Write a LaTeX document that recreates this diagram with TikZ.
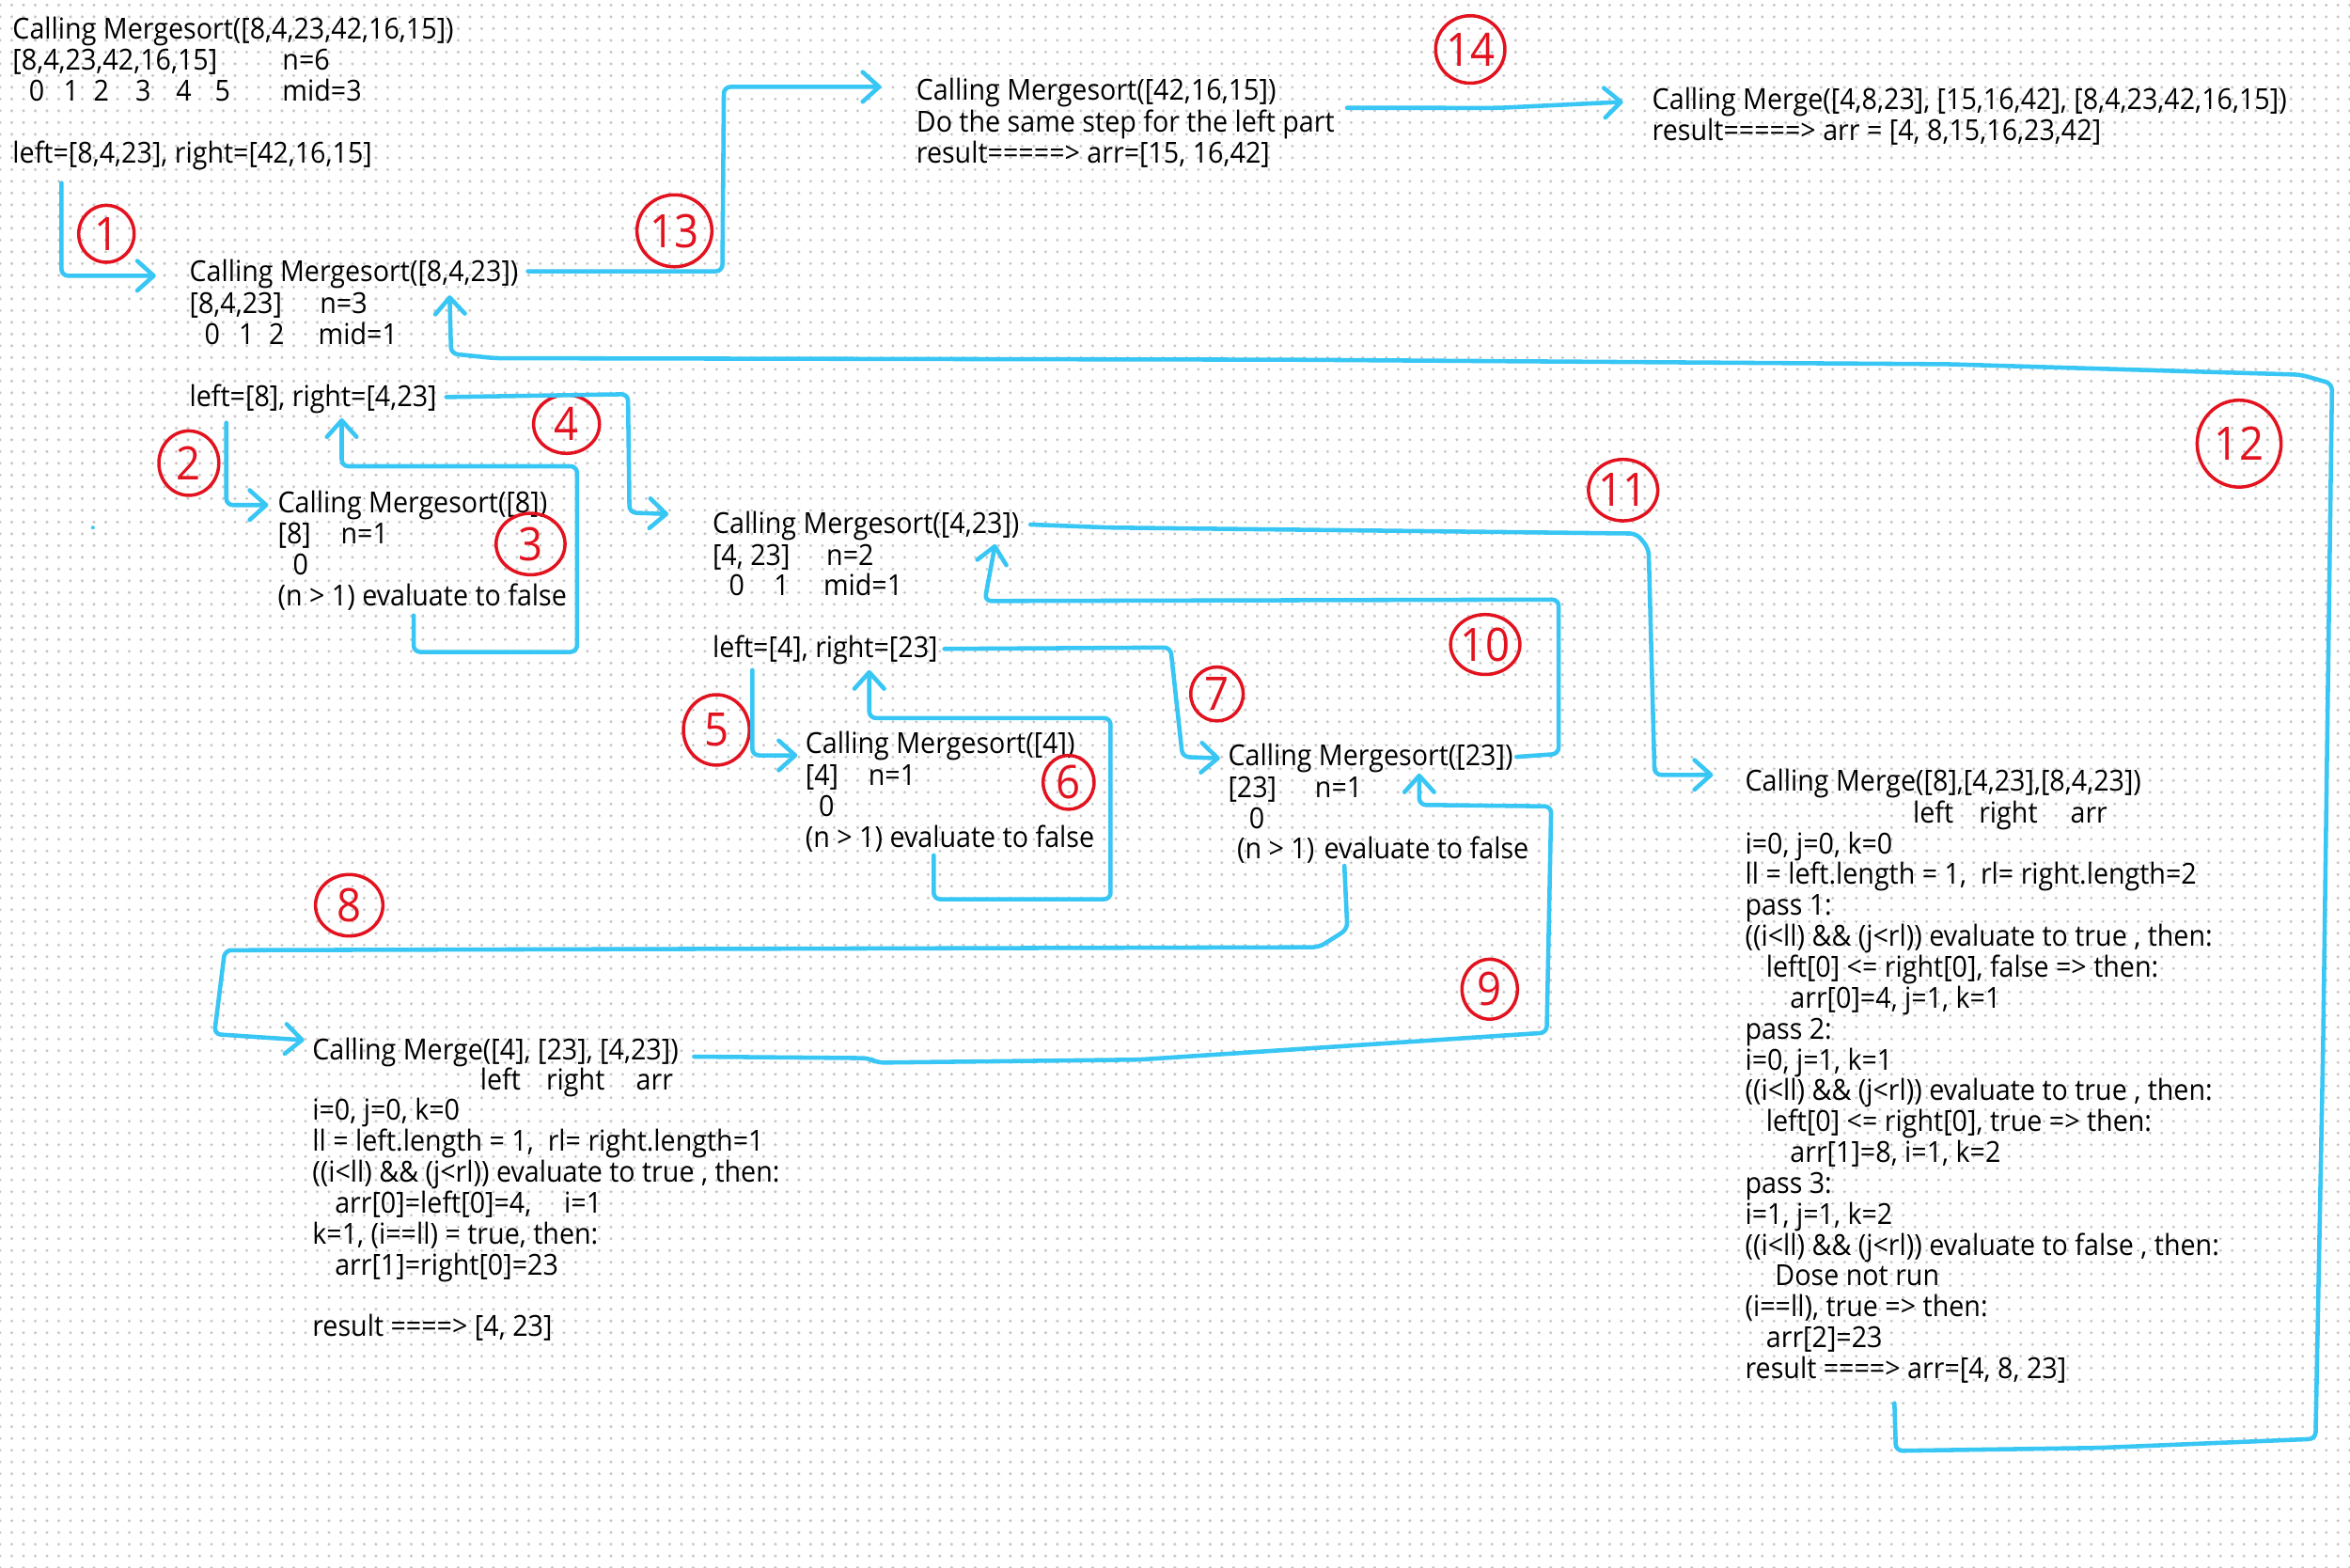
\documentclass[tikz,border=0pt]{standalone}
\usepackage{fontspec}
\newfontfamily\handfont[FakeStretch=0.93]{Open Sans}
\usetikzlibrary{arrows.meta,calc,patterns,shapes.geometric}

\definecolor{pen}{HTML}{38C6F4}
\definecolor{marker}{HTML}{E3121F}
\definecolor{dotgray}{HTML}{C6C6C6}

\newlength\px
\setlength\px{0.016cm}
\newcommand\colat[2]{\makebox[0pt][l]{\hspace*{#1\px}#2}}
\newcommand\lines[1]{\parbox[t]{9cm}{\raggedright #1}}

\pgfdeclarepatternformonly{dotgrid}{\pgfqpoint{-1pt}{-1pt}}{\pgfqpoint{1pt}{1pt}}{\pgfqpoint{3.57pt}{3.57pt}}{%
  \pgfpathcircle{\pgfpointorigin}{0.48pt}\pgfusepath{fill}}

\tikzset{
  hand/.style={font=\handfont\fontsize{8.8}{9.38}\selectfont, anchor=base west, inner sep=0pt, yshift=-0.032cm},
  flow/.style={draw=pen, line width=1.3pt, line cap=round, line join=round, rounded corners=2pt,
    -{Straight Barb[length=5pt,width=9pt,round]}},
  badge/.style 2 args={ellipse, draw=marker, line width=1pt, text=marker, inner sep=0pt,
    font=\handfont\fontsize{14}{14}\selectfont, minimum width=#1*0.016cm, minimum height=#2*0.016cm}
}

\begin{document}
\begin{tikzpicture}[x=0.016cm, y=-0.016cm]
% paper
\useasboundingbox (0,0) rectangle (1568,1046);
\fill[white] (0,0) rectangle (1568,1046);
\fill[pattern=dotgrid, pattern color=dotgray] (0,0) rectangle (1568,1046);

% mergesort of the whole array
\node[hand] (callA) at (8,24) {Calling Mergesort([8,4,23,42,16,15])};
\node[hand] (infoA) at (8,45) {\lines{\colat{0}{[8,4,23,42,16,15]}\colat{180}{n=6}\\
  \colat{11}{0}\colat{34}{1}\colat{54}{2}\colat{82}{3}\colat{109}{4}\colat{135}{5}\colat{180}{mid=3}}};
\node[hand] (splitA) at (8,107) {left=[8,4,23], right=[42,16,15]};

% left half
\node[hand] (callB) at (126,186) {Calling Mergesort([8,4,23])};
\node[hand] (infoB) at (126,207) {\lines{\colat{0}{[8,4,23]}\colat{87}{n=3}\\
  \colat{10}{0}\colat{33}{1}\colat{53}{2}\colat{86}{mid=1}}};
\node[hand] (splitB) at (126,269) {left=[8], right=[4,23]};

\node[hand] (callC) at (185,340) {Calling Mergesort([8])};
\node[hand] (infoC) at (185,361) {\lines{\colat{0}{[8]}\colat{42}{n=1}\\
  \colat{10}{0}\\
  (n > 1) evaluate to false}};

\node[hand] (callD) at (475,354) {Calling Mergesort([4,23])};
\node[hand] (infoD) at (475,375) {\lines{\colat{0}{[4, 23]}\colat{76}{n=2}\\
  \colat{11}{0}\colat{41}{1}\colat{74}{mid=1}}};
\node[hand] (splitD) at (475,437) {left=[4], right=[23]};

\node[hand] (callE) at (537,501) {Calling Mergesort([4])};
\node[hand] (infoE) at (537,522) {\lines{\colat{0}{[4]}\colat{42}{n=1}\\
  \colat{9}{0}\\
  (n > 1) evaluate to false}};

\node[hand] (callF) at (819,509) {Calling Mergesort([23])};
\node[hand] (infoF) at (819,530) {\lines{\colat{0}{[23]}\colat{58}{n=1}\\
  \colat{14}{0}\\
  \colat{6}{(n > 1)}\colat{64}{evaluate to false}}};

% merges
\node[hand] (mergeG) at (208,705) {Calling Merge([4], [23], [4,23])};
\node[hand] (infoG) at (208,725) {\lines{\colat{112}{left}\colat{156}{right}\colat{216}{arr}\\
  i=0, j=0, k=0\\
  ll = left.length = 1,\ \ rl= right.length=1\\
  ((i<ll) \&\& (j<rl)) evaluate to true , then:\\
  \colat{15}{arr[0]=left[0]=4,}\colat{168}{i=1}\\
  k=1, (i==ll) = true, then:\\
  \colat{15}{arr[1]=right[0]=23}\\
  \mbox{}\\
  result ====> [4, 23]}};

\node[hand] (mergeJ) at (1164,526) {Calling Merge([8],[4,23],[8,4,23])};
\node[hand] (infoJ) at (1164,547) {\lines{\colat{112}{left}\colat{156}{right}\colat{217}{arr}\\
  i=0, j=0, k=0\\
  ll = left.length = 1,\ \ rl= right.length=2\\
  pass 1:\\
  ((i<ll) \&\& (j<rl)) evaluate to true , then:\\
  \hspace*{14\px}left[0] <= right[0], false => then:\\
  \hspace*{30\px}arr[0]=4, j=1, k=1\\
  pass 2:\\
  i=0, j=1, k=1\\
  ((i<ll) \&\& (j<rl)) evaluate to true , then:\\
  \hspace*{14\px}left[0] <= right[0], true => then:\\
  \hspace*{30\px}arr[1]=8, i=1, k=2\\
  pass 3:\\
  i=1, j=1, k=2\\
  ((i<ll) \&\& (j<rl)) evaluate to false , then:\\
  \hspace*{20\px}Dose not run\\
  (i==ll), true => then:\\
  \hspace*{14\px}arr[2]=23\\
  result ====> arr=[4, 8, 23]}};

% right half and final merge
\node[hand] (callH) at (611,65) {Calling Mergesort([42,16,15])};
\node[hand] (infoH) at (611,86) {\lines{Do the same step for the left part\\
  result=====> arr=[15, 16,42]}};
\node[hand] (mergeI) at (1102,71) {Calling Merge([4,8,23], [15,16,42], [8,4,23,42,16,15])};
\node[hand] (infoI) at (1102,92) {result=====> arr = [4, 8,15,16,23,42]};

% order of the calls
\node[badge={37}{38}] (badge1) at (71,156) {1};
\node[badge={40}{43}] (badge2) at (126,309) {2};
\node[badge={46}{41}] (badge3) at (354,363) {3};
\node[badge={44}{39}] (badge4) at (378,283) {4};
\node[badge={44}{47}] (badge5) at (478,487) {5};
\node[badge={34}{36}] (badge6) at (713,522) {6};
\node[badge={35}{36}] (badge7) at (812,463) {7};
\node[badge={45}{41}] (badge8) at (233,604) {8};
\node[badge={37}{40}] (badge9) at (994,660) {9};
\node[badge={41}{40}] (badge10) at (991,430) {10};
\node[badge={42}{41}] (badge11) at (1083,327) {11};
\node[badge={56}{58}] (badge12) at (1494,296) {12};
\node[badge={50}{48}] (badge13) at (450,154) {13};
\node[badge={46}{45}] (badge14) at (981,33) {14};

% arrows
\draw[flow] ($(splitA.south west)+(33,8)$) |- ($(callB.west)+(-22,1)$);
\draw[flow] ($(splitB.south west)+(25,6)$) |- ($(callC.west)+(-6,0)$);
\draw[flow] ($(infoC.south west)+(91,3)$) |- (385,435) |- ($(splitB.south west)+(102,35)$)
  -- ($(splitB.south west)+(102,3)$);
\draw[flow] ($(splitB.east)+(6,-1)$) -- (419,263) -- (420,342) -- ($(callD.west)+(-29,-8)$);
\draw[flow] ($(splitD.south west)+(27,3)$) |- ($(callE.west)+(-5,6)$);
\draw[flow] ($(infoE.south west)+(86,2)$) |- (741,600) |- ($(splitD.south west)+(105,35)$)
  -- ($(splitD.south west)+(105,3)$);
\draw[flow] ($(splitD.east)+(4,-1)$) -- (781,432) -- (789,505) -- ($(callF.west)+(-5,0)$);
\draw[flow] ($(infoF.south west)+(78,1)$) -- (899,620) -- (880,632) -- (150,634) -- (143,690)
  -- ($(mergeG.west)+(-5,-8)$);
\draw[flow] ($(mergeG.east)+(10,3)$) -- (580,706) -- (585,709) -- (760,707) -- (1032,689)
  -- (1035,538) -- (947,537) -- ($(callF.south west)+(128,0)$);
\draw[flow] ($(callF.east)+(2,-1)$) -- (1040,503) -- (1040,400) -- (657,401)
  -- ($(callD.south west)+(189,2)$);
\draw[flow] ($(callD.east)+(7,-1)$) -- (740,352) -- (1092,356) -- (1100,366) -- (1104,517)
  -- ($(mergeJ.west)+(-21,-6)$);
\draw[flow] ($(infoJ.south west)+(100,13)$) -- (1265,968) -- (1400,966) -- (1545,960)
  -- (1550,700) -- (1556,256) -- (1535,250) -- (1300,243) -- (860,240) -- (330,239)
  -- (301,236) -- ($(callB.south west)+(174,4)$);
\draw[flow] ($(callB.east)+(6,-2)$) -- (482,181) -- (483,58) -- ($(callH.west)+(-23,-4)$);
\draw[flow] ($(callH.east)+(47,10)$) -- (1000,72) -- ($(mergeI.west)+(-19,0)$);
\fill[pen] (62,352) circle[radius=0.02cm];
\end{tikzpicture}
\end{document}
